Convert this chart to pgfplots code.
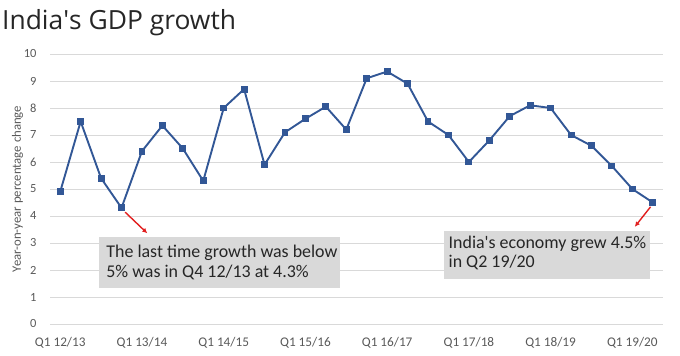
\documentclass[border=0pt]{standalone}
\usepackage{pgfplots}
\pgfplotsset{compat=1.18}
\usepackage{fontspec}
\setmainfont{Carlito}
\newfontfamily\titlefont{Open Sans}
\usetikzlibrary{arrows.meta}
\definecolor{linecol}{RGB}{50,87,150}
\definecolor{gridcol}{RGB}{217,217,217}
\definecolor{tickcol}{RGB}{89,89,89}
\definecolor{boxcol}{RGB}{217,217,217}
\definecolor{arrowcol}{RGB}{225,30,30}
\begin{document}
\begin{tikzpicture}
\useasboundingbox (0,0) rectangle (680bp,356bp);
\node[anchor=base west, inner sep=0, font=\titlefont\fontsize{26.5}{30}\selectfont, text=black!85] at (2bp,326bp) {India\textquotesingle s GDP growth};
\begin{axis}[
  at={(50bp,32bp)}, anchor=south west,
  scale only axis, width=613bp, height=270bp,
  xmin=-0.5, xmax=29.5, ymin=0, ymax=10,
  ytick={0,1,...,10},
  xtick={0,4,8,12,16,20,24,28},
  xticklabels={Q1 12/13,Q1 13/14,Q1 14/15,Q1 15/16,Q1 16/17,Q1 17/18,Q1 18/19,Q1 19/20},
  axis line style={draw=none},
  ymajorgrids,
  grid style={gridcol, line width=0.9bp},
  major tick length=0pt,
  xticklabel style={font=\fontsize{13.3}{15}\selectfont, text=tickcol, yshift=-10bp},
  yticklabel style={font=\fontsize{12.5}{15}\selectfont, text=tickcol, xshift=-10bp},
  ylabel={Year-on-year percentage change},
  ylabel style={font=\fontsize{12.8}{14}\selectfont, text=tickcol, yshift=-6bp},
  /pgf/number format/assume math mode=true,
  clip=false,
]
\addplot[color=linecol, line width=1.9bp, mark=square*, mark size=2.5bp, mark options={fill=linecol}] coordinates {
(0,4.9) (1,7.5) (2,5.4) (3,4.3) (4,6.4) (5,7.35) (6,6.5) (7,5.3) (8,8.0) (9,8.7)
(10,5.9) (11,7.1) (12,7.6) (13,8.05) (14,7.2) (15,9.1) (16,9.35) (17,8.9) (18,7.5) (19,7.0)
(20,6.0) (21,6.8) (22,7.7) (23,8.1) (24,8.0) (25,7.0) (26,6.6) (27,5.85) (28,5.0) (29,4.5)
};
\fill[boxcol] (axis cs:1.91,3.22) rectangle (axis cs:13.67,1.33);
\node[anchor=base west, inner sep=0, font=\fontsize{18}{20}\selectfont, text=black!85] at (axis cs:2.25,2.48) {The last time growth was below};
\node[anchor=base west, inner sep=0, font=\fontsize{18}{20}\selectfont, text=black!85] at (axis cs:2.25,1.74) {5\% was in Q4 12/13 at 4.3\%};
\fill[boxcol] (axis cs:18.76,3.44) rectangle (axis cs:28.85,1.67);
\node[anchor=base west, inner sep=0, font=\fontsize{18}{20}\selectfont, text=black!85] at (axis cs:19.0,2.81) {India\textquotesingle s economy grew 4.5\%};
\node[anchor=base west, inner sep=0, font=\fontsize{18}{20}\selectfont, text=black!85] at (axis cs:19.0,2.11) {in Q2 19/20};
\draw[arrowcol, line width=1.4bp, -{Latex[length=5bp,width=5bp]}] (axis cs:3.18,4.14) -- (axis cs:4.26,3.36);
\draw[arrowcol, line width=1.4bp, -{Latex[length=5bp,width=5bp]}] (axis cs:28.89,4.34) -- (axis cs:28.12,3.6);
\end{axis}
\end{tikzpicture}
\end{document}
